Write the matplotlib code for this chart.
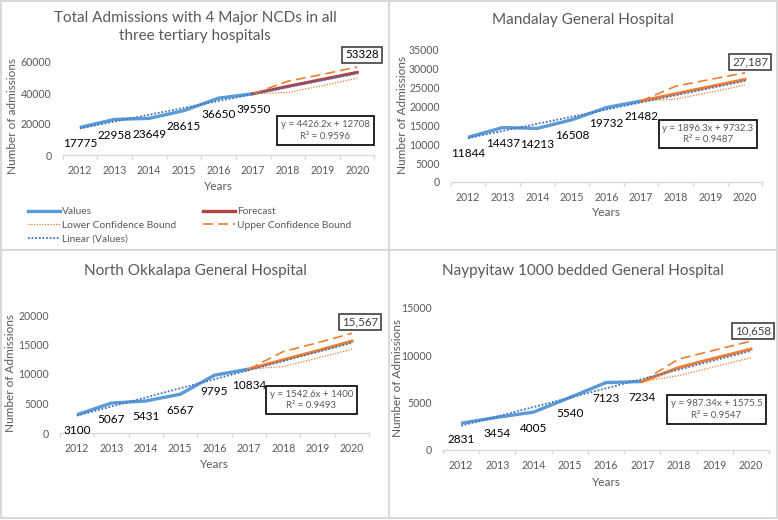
import matplotlib
matplotlib.use("Agg")
import matplotlib.pyplot as plt
from matplotlib.lines import Line2D
import numpy as np

plt.rcParams['font.family'] = ['Lato', 'DejaVu Sans']

W, H = 778, 520

years = ['2012', '2013', '2014', '2015', '2016', '2017', '2018', '2019', '2020']
hist_years = years[:6]
fc_years = years[5:]
trend_years = [years[0], years[-1]]

# Panel 1: total
total_values = [17775, 22958, 23649, 28615, 36650, 39550]
total_forecast = [39550, 44300, 48800, 53328]
total_lower = [39550, 40300, 44800, 49500]
total_upper = [39550, 47600, 52000, 56800]
total_trend = [17134, 52544]

# Panel 2: Mandalay
mdy_values = [11844, 14437, 14213, 16508, 19732, 21482]
mdy_forecast = [21482, 23400, 25300, 27187]
mdy_lower = [21482, 22000, 23800, 25700]
mdy_upper = [21482, 25400, 27200, 28950]
mdy_trend = [11629, 26799]

# Panel 3: North Okkalapa
nok_values = [3100, 5067, 5431, 6567, 9795, 10834]
nok_forecast = [10834, 12400, 13950, 15567]
nok_lower = [10834, 11250, 12700, 14200]
nok_upper = [10834, 13800, 15300, 16900]
nok_trend = [2943, 15283]

# Panel 4: Naypyitaw
npt_values = [2831, 3454, 4005, 5540, 7123, 7234]
npt_forecast = [7234, 8700, 9700, 10658]
npt_lower = [7234, 7850, 8800, 9750]
npt_upper = [7234, 9600, 10550, 11500]
npt_trend = [2563, 10461]

BLUE = '#5B9BD5'
TREND = '#4472C4'
ORANGE = '#ED7D31'
RED = '#B4413C'
GRAY = '#595959'
BORDER = '#D9D9D9'

fig = plt.figure(figsize=(W / 100, H / 100), dpi=100)


def add_ax(left, right, top, bottom):
    return fig.add_axes([left / W, 1 - bottom / H, (right - left) / W, (bottom - top) / H])


def fx(px):
    return px / W


def fy(py):
    return 1 - py / H


panels = [
    dict(box=(62.5, 374.5, 62, 155), ymax=60000, ystep=20000, vals=total_values, fc=total_forecast,
         lo=total_lower, up=total_upper, tr=total_trend, fccol=RED,
         title="Total Admissions with 4 Major NCDs in all\nthree tertiary hospitals", title_xy=(195, 27),
         ylabel="Number of admissions", ylab_xy=(13, 116), xlab_y=187, last_label="53328", last_xy=(362, 55),
         eq=("y = 4426.2x + 12708", "R\u00b2 = 0.9596"), eq_xy=(325.5, 130.5), lastcol='black'),
    dict(box=(450.7, 762.3, 50, 182), ymax=35000, ystep=5000, vals=mdy_values, fc=mdy_forecast,
         lo=mdy_lower, up=mdy_upper, tr=mdy_trend, fccol=ORANGE,
         title="Mandalay General Hospital", title_xy=(583, 20),
         ylabel="Number of Admissions", ylab_xy=(402, 115), xlab_y=213, last_label="27,187", last_xy=(750, 62),
         eq=("y = 1896.3x + 9732.3", "R\u00b2 = 0.9487"), eq_xy=(708, 134), lastcol='#404040'),
    dict(box=(59.8, 369.2, 315, 433), ymax=20000, ystep=5000, vals=nok_values, fc=nok_forecast,
         lo=nok_lower, up=nok_upper, tr=nok_trend, fccol=ORANGE,
         title="North Okkalapa General Hospital", title_xy=(195, 271),
         ylabel="Number of Admissions", ylab_xy=(11, 373), xlab_y=464, last_label="15,567", last_xy=(360, 322),
         eq=("y = 1542.6x + 1400", "R\u00b2 = 0.9493"), eq_xy=(311.5, 400), lastcol='#404040'),
    dict(box=(443, 769, 308, 450), ymax=15000, ystep=5000, vals=npt_values, fc=npt_forecast,
         lo=npt_lower, up=npt_upper, tr=npt_trend, fccol=ORANGE,
         title="Naypyitaw 1000 bedded General Hospital", title_xy=(583, 271),
         ylabel="Number of Admissions", ylab_xy=(398, 378), xlab_y=482, last_label="10,658", last_xy=(753, 331),
         eq=("y = 987.34x + 1575.5", "R\u00b2 = 0.9547"), eq_xy=(716.5, 409.5), lastcol='#404040'),
]

axes = []
for p in panels:
    l, r, t, b = p['box']
    ax = add_ax(l, r, t, b)
    axes.append(ax)
    ax.plot(years, [np.nan] * len(years), alpha=0)
    ax.plot(trend_years, p['tr'], color=TREND, lw=1.3, ls=(0, (1, 1)), zorder=4)
    ax.plot(hist_years, p['vals'], color=BLUE, lw=2.4, solid_capstyle='butt', zorder=3)
    ax.plot(fc_years, p['fc'], color=p['fccol'], lw=2.2, zorder=3)
    ax.plot(fc_years, p['lo'], color=ORANGE, lw=0.9, ls=(0, (1, 1.2)), zorder=3)
    ax.plot(fc_years, p['up'], color=ORANGE, lw=1.2, ls=(0, (6, 3)), zorder=3)
    ax.set_xlim(-0.5, 8.5)
    ax.set_ylim(0, p['ymax'])
    ax.set_yticks(np.arange(0, p['ymax'] + 1, p['ystep']))
    ax.set_xticks(range(len(years)))
    ax.set_xticklabels(years)
    ax.set_xticks(np.arange(-0.5, 9, 1), minor=True)
    for s in ['left', 'right', 'top']:
        ax.spines[s].set_visible(False)
    ax.spines['bottom'].set_color(BORDER)
    ax.spines['bottom'].set_linewidth(1.0)
    ax.tick_params(axis='x', which='major', length=0, pad=7, labelsize=7.6, labelcolor=GRAY)
    ax.tick_params(axis='x', which='minor', length=3, color=BORDER, width=1.0)
    ax.tick_params(axis='y', length=0, pad=8, labelsize=7.6, labelcolor=GRAY)
    ax.patch.set_alpha(0)
    for yr, v in zip(hist_years, p['vals']):
        ax.annotate(f"{v}", (yr, v), xytext=(0, -11.5), textcoords='offset points',
                    ha='center', va='center', fontsize=8.5, color='black')
    fig.text(fx(p['title_xy'][0]), fy(p['title_xy'][1]), p['title'], ha='center', va='center',
             fontsize=11, color=GRAY, linespacing=1.4)
    fig.text(fx(p['ylab_xy'][0]), fy(p['ylab_xy'][1]), p['ylabel'], rotation=90, ha='center', va='center',
             fontsize=8.5, color=GRAY)
    fig.text(fx((l + r) / 2), fy(p['xlab_y']), "Years", ha='center', va='center', fontsize=8.5, color=GRAY)
    fig.text(fx(p['last_xy'][0]), fy(p['last_xy'][1]), p['last_label'], ha='center', va='center',
             fontsize=8.3, color=p['lastcol'],
             bbox=dict(boxstyle='square,pad=0.25', fc='white', ec='#404040', lw=1.2))
    fig.text(fx(p['eq_xy'][0]), fy(p['eq_xy'][1]), p['eq'][0] + "\n" + p['eq'][1], ha='center', va='center',
             fontsize=6.9, color=GRAY, linespacing=1.35, multialignment='center',
             bbox=dict(boxstyle='square,pad=0.4', fc='white', ec='black', lw=1.2))

# Legend for panel 1
handles = [
    Line2D([], [], color=BLUE, lw=2.4),
    Line2D([], [], color=ORANGE, lw=0.9, ls=(0, (1, 1.2))),
    Line2D([], [], color=TREND, lw=1.3, ls=(0, (1, 1))),
    Line2D([], [], color=RED, lw=2.4),
    Line2D([], [], color=ORANGE, lw=1.2, ls=(0, (6, 3))),
]
labels = ["Values", "Lower Confidence Bound", "Linear (Values)", "Forecast", "Upper Confidence Bound"]
fig.legend(handles, labels, ncol=2, loc='upper left', bbox_to_anchor=(fx(28), fy(207)),
           frameon=False, fontsize=7.4, labelcolor=GRAY, borderpad=0, borderaxespad=0,
           handlelength=3.1, handletextpad=0.2, columnspacing=2.6, labelspacing=0.45)

# Panel borders
for (x0, y0, x1, y1) in [(1, 1, 777, 1), (1, 518, 777, 518), (1, 1, 1, 518), (777, 1, 777, 518),
                         (389, 1, 389, 518), (1, 250, 777, 250)]:
    fig.add_artist(Line2D([fx(x0), fx(x1)], [fy(y0), fy(y1)], color=BORDER, lw=1.5))

fig.savefig("out.png", dpi=100, facecolor='white')
